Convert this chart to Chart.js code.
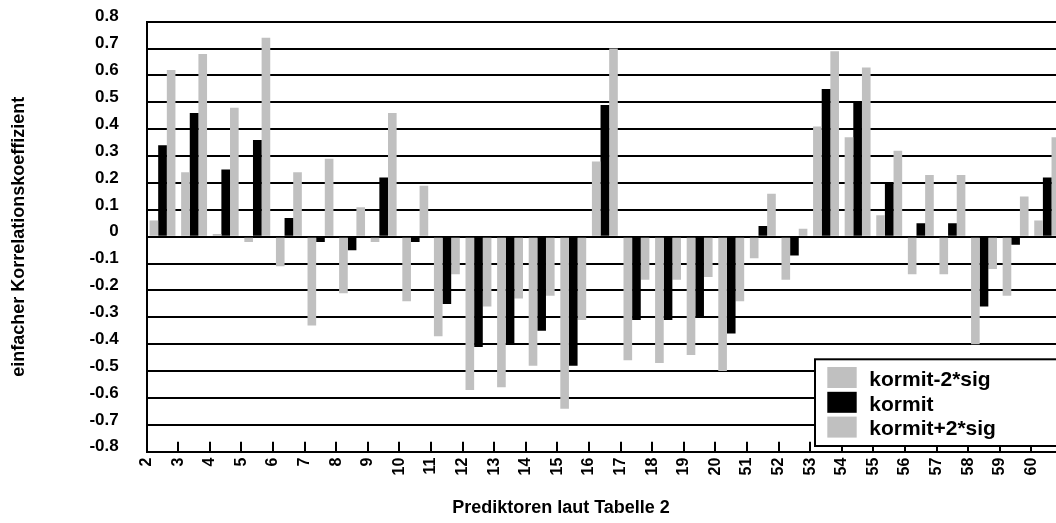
<!DOCTYPE html>
<html><head><meta charset="utf-8">
<script src="https://cdn.jsdelivr.net/npm/chart.js@4/dist/chart.umd.min.js"></script>
<style>html,body{margin:0;padding:0;overflow:hidden;background:#fff}canvas{display:block}</style>
</head><body>
<canvas id="c" width="1064" height="523"></canvas>
<script>
const categories = ['2','3','4','5','6','7','8','9','10','11','12','13','14','15','16','17','18','19','20','51','52','53','54','55','56','57','58','59','60'];
const seriesMinus = [0.06,0.24,0.01,-0.02,-0.11,-0.33,-0.21,-0.02,-0.24,-0.37,-0.57,-0.56,-0.48,-0.64,0.28,-0.46,-0.47,-0.44,-0.50,-0.08,-0.16,0.41,0.37,0.08,-0.14,-0.14,-0.40,-0.22,0.06];
const seriesKormit = [0.34,0.46,0.25,0.36,0.07,-0.02,-0.05,0.22,-0.02,-0.25,-0.41,-0.40,-0.35,-0.48,0.49,-0.31,-0.31,-0.30,-0.36,0.04,-0.07,0.55,0.50,0.20,0.05,0.05,-0.26,-0.03,0.22];
const seriesPlus = [0.62,0.68,0.48,0.74,0.24,0.29,0.11,0.46,0.19,-0.14,-0.26,-0.23,-0.22,-0.31,0.70,-0.16,-0.16,-0.15,-0.24,0.16,0.03,0.69,0.63,0.32,0.23,0.23,-0.12,0.15,0.37];
const seriesNames = ['kormit-2*sig','kormit','kormit+2*sig'];
const xAxisTitle = 'Prediktoren laut Tabelle 2';
const yAxisTitle = 'einfacher Korrelationskoeffizient';

const FONT = '"Liberation Sans", Arial, sans-serif';
Chart.defaults.font.family = FONT;
Chart.defaults.color = '#000';

const xTitlePlugin = {
  id: 'xTitle',
  afterDraw(chart) {
    const ctx = chart.ctx;
    ctx.save();
    ctx.fillStyle = '#000';
    ctx.font = 'bold 18px ' + FONT;
    ctx.textAlign = 'center';
    ctx.textBaseline = 'alphabetic';
    ctx.fillText(xAxisTitle, 561, 513);
    ctx.restore();
  }
};

const legendPlugin = {
  id: 'boxLegend',
  afterDraw(chart) {
    const ctx = chart.ctx;
    ctx.save();
    ctx.fillStyle = '#fff';
    ctx.fillRect(815, 359.3, 300, 86.7);
    ctx.lineWidth = 2;
    ctx.strokeStyle = '#000';
    ctx.strokeRect(815, 359.3, 300, 86.7);
    ctx.font = 'bold 21px ' + FONT;
    ctx.textAlign = 'left';
    ctx.textBaseline = 'alphabetic';
    chart.data.datasets.forEach((ds, i) => {
      const top = 367 + i * 24.8;
      ctx.fillStyle = ds.backgroundColor;
      ctx.fillRect(827.3, top, 29.4, 21);
      ctx.fillStyle = '#000';
      ctx.fillText(ds.label, 869.3, top + 18.7);
    });
    ctx.restore();
  }
};

const barOpts = { categoryPercentage: 0.82, barPercentage: 1.0, borderWidth: 0 };

new Chart(document.getElementById('c'), {
  type: 'bar',
  data: {
    labels: categories,
    datasets: [
      Object.assign({ label: seriesNames[0], data: seriesMinus, backgroundColor: '#c0c0c0' }, barOpts),
      Object.assign({ label: seriesNames[1], data: seriesKormit, backgroundColor: '#000000' }, barOpts),
      Object.assign({ label: seriesNames[2], data: seriesPlus, backgroundColor: '#c0c0c0' }, barOpts)
    ]
  },
  options: {
    responsive: false,
    animation: false,
    devicePixelRatio: 1,
    layout: { padding: { left: 8, top: 21.7, right: 1, bottom: 0 } },
    plugins: { legend: { display: false }, tooltip: { enabled: false } },
    scales: {
      x: {
        offset: true,
        grid: { drawOnChartArea: false, drawTicks: true, tickLength: -10, color: '#000', lineWidth: 2, offset: true },
        border: { display: true, color: '#000', width: 2 },
        ticks: { autoSkip: false, minRotation: 90, maxRotation: 90, labelOffset: -15.8, padding: 16, color: '#000', font: { size: 16, weight: 'bold' } },
        afterFit(s) { s.height = 71.3; s.paddingLeft = 0; s.paddingRight = 0; }
      },
      y: {
        min: -0.8, max: 0.8,
        ticks: {
          stepSize: 0.1, padding: 28, labelOffset: -5, color: '#000',
          font: { size: 17, weight: 'bold' },
          callback(v) { const r = Math.round(v * 10) / 10; return r === 0 ? '0' : r.toFixed(1); }
        },
        grid: { color: '#000', lineWidth: 2, drawTicks: false },
        border: { display: true, color: '#000', width: 2 },
        title: { display: true, text: yAxisTitle, color: '#000', font: { size: 18, weight: 'bold' }, padding: 0 },
        afterFit(s) { s.width = 138.7; s.paddingTop = 0; s.paddingBottom = 0; }
      }
    }
  },
  plugins: [xTitlePlugin, legendPlugin]
});
</script>
</body></html>
